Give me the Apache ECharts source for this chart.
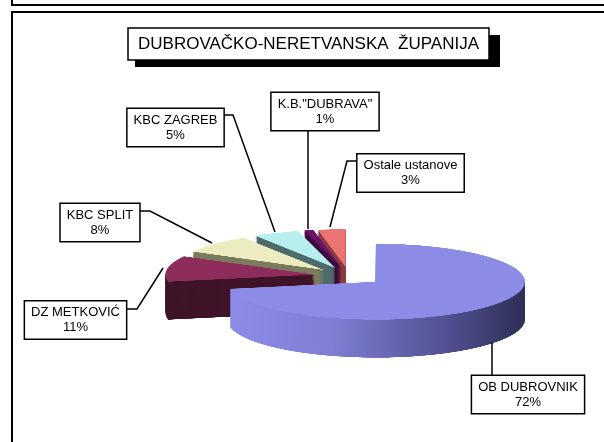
<!DOCTYPE html>
<html>
<head>
<meta charset="utf-8">
<script src="https://cdn.jsdelivr.net/npm/echarts@6/dist/echarts.min.js"></script>
<style>
  html, body { margin: 0; padding: 0; background: #fff; }
  #wrap { position: relative; width: 604px; height: 442px; overflow: hidden; }
  /* pie drawn flat, then squashed to look like Excel's tilted 3-D pie */
  #pie { position: absolute; left: 0; top: 225px; width: 604px; height: 600px;
         transform: scaleY(0.255); transform-origin: 0 0; }
  #main { position: absolute; left: 0; top: 0; width: 604px; height: 442px; }
</style>
</head>
<body>
<div id="wrap">
  <div id="pie"></div>
  <div id="main"></div>
</div>
<script>
// data
const categories = ['OB DUBROVNIK', 'DZ METKOVIĆ', 'KBC SPLIT', 'KBC ZAGREB', 'K.B."DUBRAVA"', 'Ostale ustanove']
const shares = [72, 11, 8, 5, 1, 3]

const FONT = 'Liberation Sans, Arial, sans-serif'

// top faces / side walls
const topColors = ['#8c8ce6', '#8e2c5c', '#ececc0', '#b8eeee', '#6b106b', '#ec7373']
const sideColors = [
  new echarts.graphic.LinearGradient(0, 0, 1, 0, [
    { offset: 0, color: '#8c8ce8' },
    { offset: 0.35, color: '#7e7ed2' },
    { offset: 0.7, color: '#55559a' },
    { offset: 1, color: '#2f2f58' }
  ]),
  '#3f1428', '#7a7a5e', '#4e6b6b', '#3c0a3c', '#8a3d3d'
]

// label boxes (centre) and leader lines, in page pixels
const labelBoxes = [[528, 394.5], [75.5, 320], [100, 222.5], [175.5, 127.5], [325, 111.5], [410.5, 173]]
const leaderLines = [
  [[492, 342], [492, 360], [492, 377]],
  [[163, 268], [137, 309], [126, 309]],
  [[212, 243], [150, 211], [139, 211]],
  [[275, 232], [233, 115], [223, 115]],
  [[308, 229], [308, 180], [308, 129]],
  [[330, 227], [347, 161], [358, 161]]
]

// ---- squashed pie: stacked layers give the depth ----
const SCALE = 0.255
const DEPTH = 38
const layers = []
for (let k = DEPTH; k >= 0; k--) {
  layers.push({
    type: 'pie',
    silent: true,
    animation: false,
    z: 2 + DEPTH - k,
    center: [349, 200 + k / SCALE],
    radius: 149,
    startAngle: 90,
    clockwise: true,
    selectedMode: 'multiple',
    selectedOffset: 35,
    label: { show: false },
    labelLine: { show: false },
    emphasis: { disabled: true },
    select: { itemStyle: { borderWidth: 0 } },
    data: categories.map((name, i) => {
      const c = k === 0 ? topColors[i] : sideColors[i]
      return {
        name,
        value: shares[i],
        selected: true,
        itemStyle: { color: c, borderWidth: 0 },
        select: { itemStyle: { color: c, borderWidth: 0 } }
      }
    })
  })
}

const pieChart = echarts.init(document.getElementById('pie'))
pieChart.setOption({ animation: false, series: layers })

// ---- overlay: frame, title and labels ----
const mainChart = echarts.init(document.getElementById('main'))
mainChart.setOption({
  animation: false,
  graphic: [
    // bottom of the box above
    { type: 'rect', shape: { x: 12, y: -60, width: 640, height: 65 }, style: { fill: 'none', stroke: '#000', lineWidth: 2 } },
    // chart frame
    { type: 'rect', shape: { x: 12, y: 12, width: 640, height: 480 }, style: { fill: 'none', stroke: '#000', lineWidth: 2 } },
    // title shadow
    { type: 'rect', shape: { x: 135, y: 35, width: 365, height: 32 }, style: { fill: '#000' } }
  ],
  title: {
    text: 'DUBROVAČKO-NERETVANSKA  ŽUPANIJA',
    left: 128,
    top: 28,
    padding: [6, 10, 6, 10],
    backgroundColor: '#fff',
    borderColor: '#000',
    borderWidth: 1.5,
    textStyle: { fontFamily: FONT, fontSize: 17, lineHeight: 20, fontWeight: 'normal', color: '#000' }
  },
  series: [
    {
      type: 'pie',
      silent: true,
      center: [349, 276],
      radius: 20,
      startAngle: 90,
      itemStyle: { color: 'rgba(0,0,0,0)' },
      emphasis: { disabled: true },
      label: {
        show: true,
        position: 'outer',
        alignTo: 'none',
        formatter: '{b}\n{d}%',
        fontFamily: FONT,
        fontSize: 13,
        lineHeight: 15,
        color: '#000',
        align: 'center',
        backgroundColor: '#fff',
        borderColor: '#000',
        borderWidth: 1.5,
        padding: [4, 6, 3, 6]
      },
      labelLine: { show: true, smooth: false, lineStyle: { color: '#000', width: 1.5 } },
      labelLayout: function (params) {
        const i = params.dataIndex
        return {
          x: labelBoxes[i][0],
          y: labelBoxes[i][1],
          align: 'center',
          verticalAlign: 'middle',
          labelLinePoints: leaderLines[i]
        }
      },
      data: categories.map((name, i) => ({ name, value: shares[i] }))
    }
  ]
})
</script>
</body>
</html>
